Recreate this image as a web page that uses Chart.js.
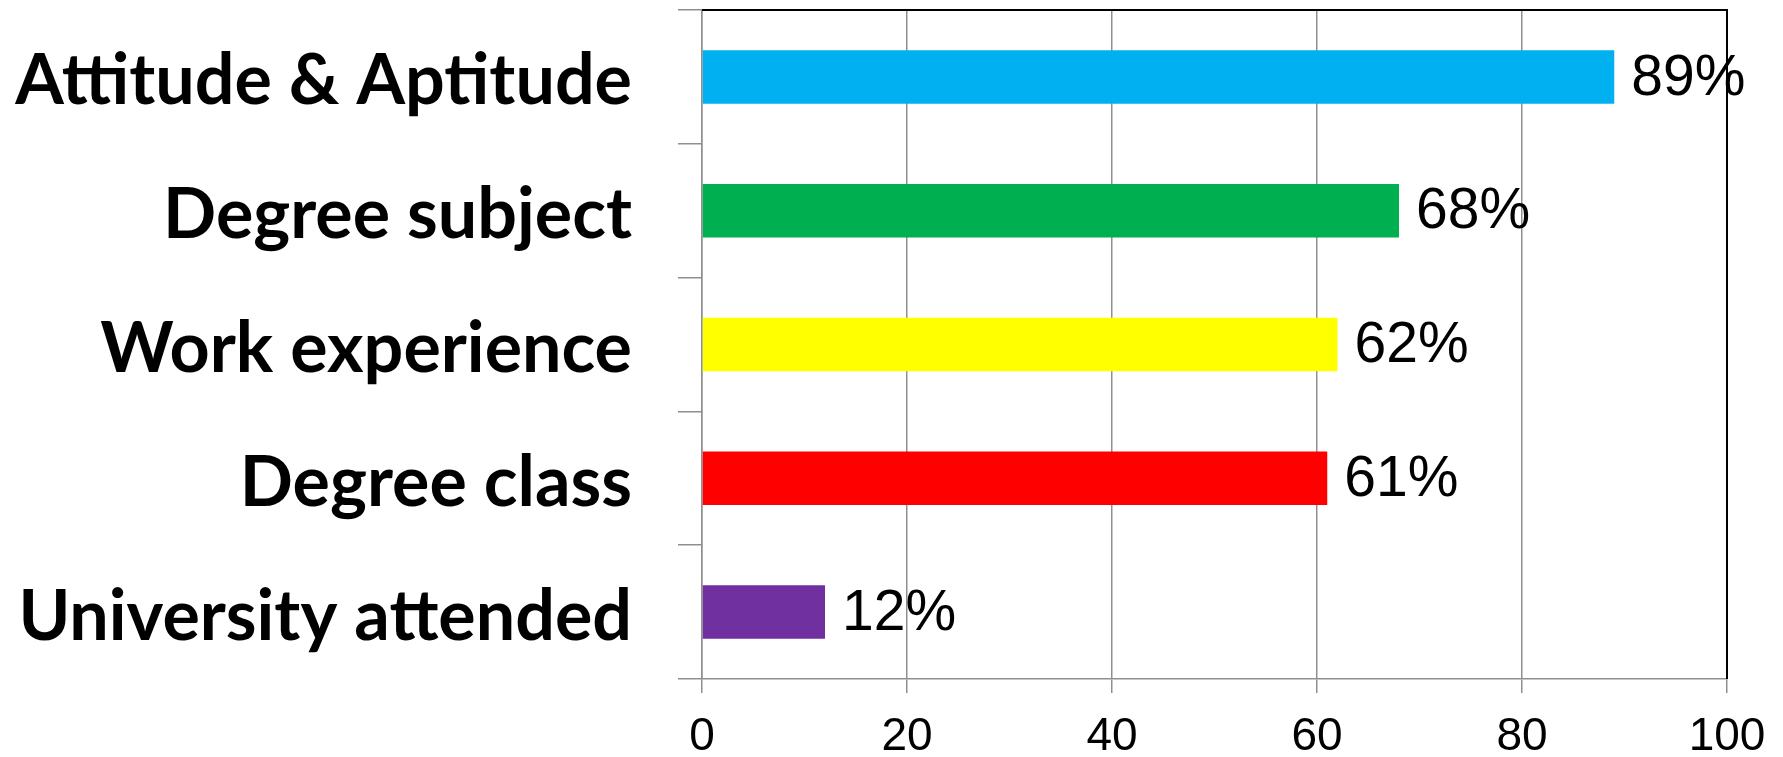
<!DOCTYPE html>
<html>
<head>
<meta charset="utf-8">
<script src="https://cdn.jsdelivr.net/npm/chart.js@4/dist/chart.umd.min.js"></script>
<style>
  html, body { margin: 0; padding: 0; background: #fff; }
  #wrap { width: 1783px; height: 757px; position: relative; }
</style>
</head>
<body>
<div id="wrap"><canvas id="factorsChart"></canvas></div>
<script>
// Chart data
const categories = ['Attitude & Aptitude', 'Degree subject', 'Work experience', 'Degree class', 'University attended'];
const percentages = [89, 68, 62, 61, 12];
const barColors = ['#00B0F0', '#00B050', '#FFFF00', '#FF0000', '#7030A0'];
const xTicks = [0, 20, 40, 60, 80, 100];

const gridGray = '#8f8f8f';

// Draws the "89%" style labels just past the end of each bar
const valueLabels = {
  id: 'valueLabels',
  afterDatasetsDraw(chart) {
    const ctx = chart.ctx;
    const meta = chart.getDatasetMeta(0);
    ctx.save();
    ctx.font = '57px "Liberation Sans", Arial, sans-serif';
    ctx.fillStyle = '#000';
    ctx.textAlign = 'left';
    ctx.textBaseline = 'middle';
    meta.data.forEach((bar, i) => {
      ctx.fillText(percentages[i] + '%', bar.x + 17, bar.y + 2);
    });
    ctx.restore();
  }
};

// Black frame on the top and right of the plot area
const plotFrame = {
  id: 'plotFrame',
  afterDraw(chart) {
    const { ctx, chartArea: a } = chart;
    ctx.save();
    ctx.strokeStyle = '#000';
    ctx.lineWidth = 2;
    ctx.beginPath();
    ctx.moveTo(a.left, a.top);
    ctx.lineTo(a.right, a.top);
    ctx.lineTo(a.right, a.bottom);
    ctx.stroke();
    ctx.restore();
  }
};

const ctx = document.getElementById('factorsChart').getContext('2d');
const chart = new Chart(ctx, {
  type: 'bar',
  data: {
    labels: categories,
    datasets: [{
      data: percentages,
      backgroundColor: barColors,
      borderWidth: 0,
      barPercentage: 0.4,
      categoryPercentage: 1.0
    }]
  },
  options: {
    indexAxis: 'y',
    responsive: true,
    maintainAspectRatio: false,
    animation: false,
    layout: { padding: { top: 10, right: 56, bottom: 0, left: 0 } },
    plugins: {
      legend: { display: false },
      tooltip: { enabled: false }
    },
    scales: {
      x: {
        min: 0,
        max: 100,
        afterBuildTicks: (axis) => { axis.ticks = xTicks.map(v => ({ value: v })); },
        afterFit: (axis) => {
          axis.height = 78;
          axis.paddingLeft = 0;
          axis.paddingRight = 0;
        },
        grid: { color: gridGray, lineWidth: 1.5, tickLength: 14 },
        border: { color: gridGray, width: 1.5 },
        ticks: {
          color: '#000',
          padding: 17,
          font: { family: '"Liberation Sans", Arial, sans-serif', size: 46 }
        }
      },
      y: {
        afterFit: (axis) => {
          axis.width = 702;
          axis.paddingTop = 0;
          axis.paddingBottom = 0;
        },
        grid: { offset: true, drawOnChartArea: false, color: gridGray, lineWidth: 1.5, tickLength: 24 },
        border: { color: gridGray, width: 1.5 },
        ticks: {
          color: '#000',
          padding: 46,
          labelOffset: 5,
          font: { family: 'Lato, sans-serif', size: 70, weight: 'bold' }
        }
      }
    }
  },
  plugins: [valueLabels, plotFrame]
});
</script>
</body>
</html>
